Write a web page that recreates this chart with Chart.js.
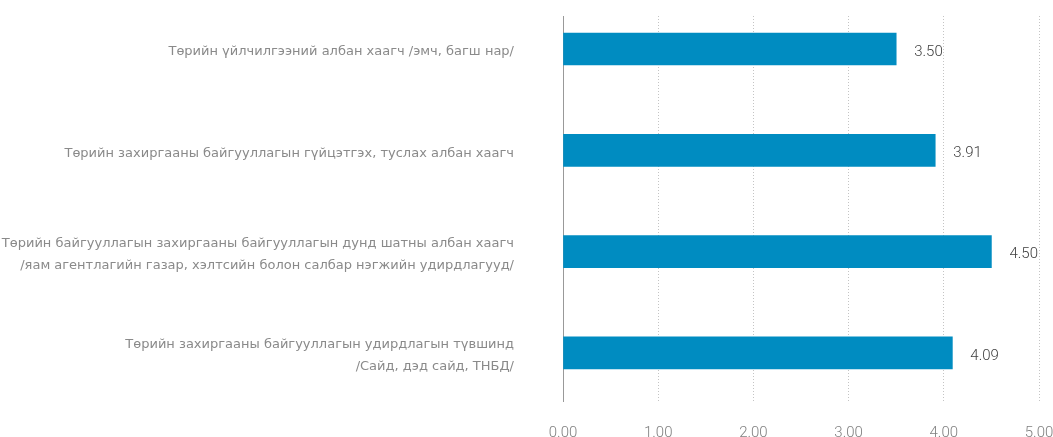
<!DOCTYPE html>
<html>
<head>
<meta charset="utf-8">
<script src="https://cdn.jsdelivr.net/npm/chart.js@4"></script>
<style>
  html, body { margin: 0; padding: 0; background: #fff; }
  #wrap { width: 1053px; height: 437px; position: relative; }
</style>
</head>
<body>
<div id="wrap"><canvas id="c" width="1053" height="437"></canvas></div>
<script>
const categories = [
  ["Төрийн үйлчилгээний албан хаагч /эмч, багш нар/"],
  ["Төрийн захиргааны байгууллагын гүйцэтгэх, туслах албан хаагч"],
  ["Төрийн байгууллагын захиргааны байгууллагын дунд шатны албан хаагч", "/яам агентлагийн газар, хэлтсийн болон салбар нэгжийн удирдлагууд/"],
  ["Төрийн захиргааны байгууллагын удирдлагын түвшинд", "/Сайд, дэд сайд, ТНБД/"]
];
const values = [3.50, 3.91, 4.50, 4.09];
const xTicks = [0, 1, 2, 3, 4, 5];

const valueLabels = {
  id: 'valueLabels',
  afterDatasetsDraw(chart) {
    const ctx = chart.ctx;
    const meta = chart.getDatasetMeta(0);
    ctx.save();
    ctx.font = '300 15px Roboto';
    ctx.fillStyle = '#404040';
    ctx.textAlign = 'left';
    ctx.textBaseline = 'middle';
    meta.data.forEach((el, i) => {
      ctx.fillText(values[i].toFixed(2), el.x + 18, el.y + 3);
    });
    ctx.restore();
  }
};

new Chart(document.getElementById('c'), {
  type: 'bar',
  data: {
    datasets: [{
      data: values.map((v, i) => ({ x: v, y: i })),
      backgroundColor: '#008CC1',
      borderWidth: 0,
      barThickness: 32
    }]
  },
  options: {
    indexAxis: 'y',
    responsive: false,
    animation: false,
    layout: { padding: { top: 16, right: 0, bottom: 0, left: 0 } },
    plugins: { legend: { display: false }, tooltip: { enabled: false } },
    scales: {
      x: {
        type: 'linear',
        min: 0,
        max: 5,
        afterBuildTicks(scale) { scale.ticks = xTicks.map(v => ({ value: v })); },
        afterFit(scale) {
          scale.height = 36;
          scale.paddingLeft = 0; scale.paddingRight = 14;
          scale.paddingTop = 0; scale.paddingBottom = 0;
        },
        grid: {
          drawTicks: false,
          color: ctx => (ctx.tick && ctx.tick.value === 0) ? 'rgba(0,0,0,0)' : '#c4c4c4',
          lineWidth: 1
        },
        border: { display: false, dash: [1, 2] },
        ticks: {
          padding: 23,
          color: '#808080',
          font: { family: 'Roboto', size: 15, weight: '300' },
          callback: v => Number(v).toFixed(2)
        }
      },
      y: {
        type: 'linear',
        reverse: true,
        offset: false,
        bounds: 'data',
        min: -0.326,
        max: 3.475,
        afterBuildTicks(scale) { scale.ticks = categories.map((c, i) => ({ value: i })); },
        afterFit(scale) {
          scale.width = 563;
          scale.paddingLeft = 0; scale.paddingRight = 0;
          scale.paddingTop = 0; scale.paddingBottom = 0;
        },
        grid: { display: false, drawTicks: false },
        border: { display: true, color: '#999999', width: 1 },
        ticks: {
          padding: 49,
          labelOffset: 3,
          color: '#8a8a8a',
          font: { family: 'DejaVu Sans', size: 13, lineHeight: 1.7 },
          callback: (v) => categories[v] || ''
        }
      }
    }
  },
  plugins: [valueLabels]
});
</script>
</body>
</html>
